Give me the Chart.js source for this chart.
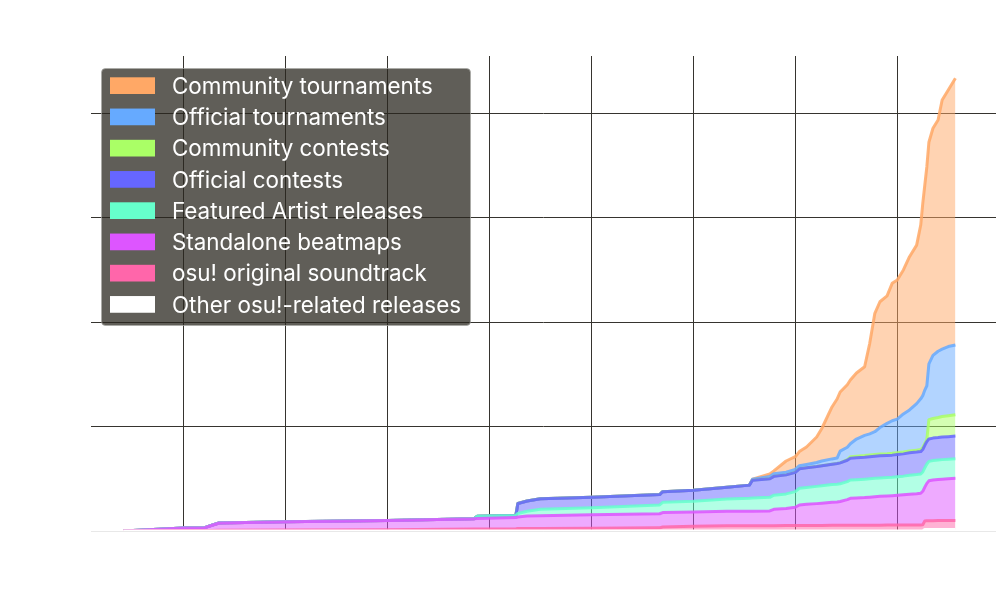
<!DOCTYPE html>
<html>
<head>
<meta charset="utf-8">
<script src="https://cdn.jsdelivr.net/npm/chart.js@4.4.1/dist/chart.umd.min.js"></script>
<style>
html,body{margin:0;padding:0;background:#fff;}
#wrap{width:1000px;height:600px;}
</style>
</head>
<body>
<div id="wrap"><canvas id="c" width="1000" height="600"></canvas></div>
<script>
// release dates (fractional years)
const dates = [2015.41,2016.00,2016.21,2016.28,2016.35,2017.00,2018.00,2018.85,2018.88,2019.26,
  2019.28,2019.37,2019.50,2020.00,2020.67,2020.70,2021.00,2021.33,2021.55,2021.58,
  2021.75,2021.79,2021.91,2022.00,2022.04,2022.11,2022.21,2022.26,2022.36,2022.41,
  2022.44,2022.51,2022.54,2022.60,2022.68,2022.73,2022.78,2022.83,2022.90,2022.95,
  2023.00,2023.06,2023.12,2023.19,2023.23,2023.25,2023.27,2023.29,2023.31,2023.35,
  2023.40,2023.44,2023.50,2023.57];

// tick positions (labels are not shown in the picture)
const xTicks = [2016, 2017, 2018, 2019, 2020, 2021, 2022, 2023];
const yTicks = [0, 1000, 2000, 3000, 4000];

// cumulative counts per category
const otherRelated = [0,0,0,0,0,0,0,0,0,0, 0,0,0,0,0,0,0,0,0,0,
  0,0,0,0,0,0,0,0,0,0, 0,0,0,0,0,0,0,0,0,0, 0,0,0,0,0,0,15,15,15,15, 15,15,15,15];
const originalSoundtrack = [0,4,5,5,6,9,13,18,18,22, 23,24,25,27,30,38,45,50,50,50,
  51,51,52,52,52,53,53,53,54,54, 54,55,55,55,56,56,56,56,57,57, 57,57,58,58,58,60,80,84,84,84, 85,85,86,86];
const standaloneBeatmaps = [0,24,27,50,70,79,87,99,101,106, 111,119,122,128,135,138,138,139,140,140,
  141,157,163,175,197,202,209,213,220,224, 228,245,258,261,264,268,272,276,278,281,
  285,290,294,299,303,320,325,357,381,389, 393,396,399,403];
const featuredArtist = [0,0,0,0,0,0,0,0,21,21, 34,46,62,67,84,99,102,118,124,126,
  130,135,140,150,160,162,165,167,170,170, 170,172,175,175,176,176,176,176,176,176,
  177,178,182,184,185,185,185,185,186,186, 186,187,187,188];
const officialContests = [0,0,0,0,0,0,0,0,0,0, 95,98,100,100,100,101,105,112,125,170,
  178,180,182,184,186,188,190,192,195,198, 200,205,208,210,210,211,211,212,212,212,
  213,213,214,214,214,215,215,215,215,215, 215,216,216,216];
const communityContests = [0,0,0,0,0,0,0,0,0,0, 0,0,0,0,0,0,0,0,0,0,
  0,0,0,0,0,0,0,0,0,0, 0,5,14,15,16,16,17,17,17,18, 18,18,18,19,19,19,19,20,185,188, 192,196,200,205];
const officialTournaments = [0,0,0,0,0,0,0,0,0,0, 0,0,0,0,0,0,0,0,0,10,
  22,24,26,28,30,32,38,45,51,52, 112,120,125,164,193,203,218,253,290,311,
  320,364,392,445,486,496,510,514,534,603, 634,645,662,667];
const communityTournaments = [0,0,0,0,0,0,0,0,0,0, 0,0,0,0,0,0,0,0,0,0,
  23,28,107,122,135,167,245,311,497,565, 566,598,610,632,657,866,1133,1204,1220,1315,
  1332,1378,1467,1517,1663,1841,1962,2096,2120,2174, 2213,2385,2455,2552];

// stacking order, bottom to top
const seriesNames = ['Other osu!-related releases','osu! original soundtrack','Standalone beatmaps',
  'Featured Artist releases','Official contests','Community contests','Official tournaments','Community tournaments'];
const seriesValues = [otherRelated, originalSoundtrack, standaloneBeatmaps, featuredArtist,
  officialContests, communityContests, officialTournaments, communityTournaments];
const seriesRGB = ['255,255,255','255,102,170','221,85,255','102,255,204','102,102,255','170,255,102','102,170,255','255,168,102'];

const datasets = seriesNames.map((name, i) => ({
  label: name,
  data: dates.map((d, j) => ({x: d, y: seriesValues[i][j]})),
  borderColor: i === 0 ? 'rgb(255,255,255)' : 'rgba(' + seriesRGB[i] + ',0.85)',
  backgroundColor: 'rgba(' + seriesRGB[i] + ',0.5)',
  swatch: 'rgb(' + seriesRGB[i] + ')',
  borderWidth: 3,
  pointRadius: 0,
  tension: 0,
  fill: i === 0 ? 'origin' : '-1',
  borderJoinStyle: 'round'
}));

const legendBox = {
  id: 'legendBox',
  afterDraw(chart) {
    const ctx = chart.ctx;
    const items = chart.data.datasets.map(d => ({label: d.label, color: d.swatch})).reverse();
    ctx.save();
    const x = 101.5, y = 68.5, w = 369, h = 257, r = 4;
    ctx.beginPath();
    ctx.moveTo(x + r, y);
    ctx.lineTo(x + w - r, y); ctx.arcTo(x + w, y, x + w, y + r, r);
    ctx.lineTo(x + w, y + h - r); ctx.arcTo(x + w, y + h, x + w - r, y + h, r);
    ctx.lineTo(x + r, y + h); ctx.arcTo(x, y + h, x, y + h - r, r);
    ctx.lineTo(x, y + r); ctx.arcTo(x, y, x + r, y, r);
    ctx.closePath();
    ctx.fillStyle = 'rgba(40,38,30,0.74)';
    ctx.fill();
    ctx.strokeStyle = 'rgba(170,170,165,0.7)';
    ctx.lineWidth = 1;
    ctx.stroke();
    ctx.font = '22.4px Inter';
    ctx.textAlign = 'left';
    ctx.textBaseline = 'alphabetic';
    items.forEach((it, i) => {
      ctx.fillStyle = it.color;
      ctx.fillRect(110, 77.3 + 31.25 * i, 45, 16.7);
      ctx.fillStyle = '#ffffff';
      ctx.fillText(it.label, 172, 93.8 + 31.25 * i);
    });
    ctx.restore();
  }
};

new Chart(document.getElementById('c'), {
  type: 'line',
  data: {datasets},
  plugins: [legendBox],
  options: {
    responsive: false,
    animation: false,
    devicePixelRatio: 1,
    layout: {padding: {left: 91, right: 4, top: 56, bottom: 69}},
    plugins: {legend: {display: false}, tooltip: {enabled: false}, title: {display: false}},
    scales: {
      x: {
        type: 'linear',
        min: 2015.095,
        max: 2023.968,
        ticks: {display: false},
        afterBuildTicks: s => { s.ticks = xTicks.map(v => ({value: v})); },
        grid: {color: '#36342f', lineWidth: 1, drawTicks: false, tickLength: 0, z: -1},
        border: {display: false}
      },
      y: {
        type: 'linear',
        stacked: true,
        min: 0,
        max: 4545.5,
        ticks: {display: false},
        afterBuildTicks: s => { s.ticks = yTicks.map(v => ({value: v})); },
        grid: {
          color: c => (c.tick && c.tick.value === 0) ? 'rgba(0,0,0,0.09)' : '#36342f',
          lineWidth: 1, drawTicks: false, tickLength: 0, z: -1
        },
        border: {display: false}
      }
    }
  }
});
</script>
</body>
</html>
